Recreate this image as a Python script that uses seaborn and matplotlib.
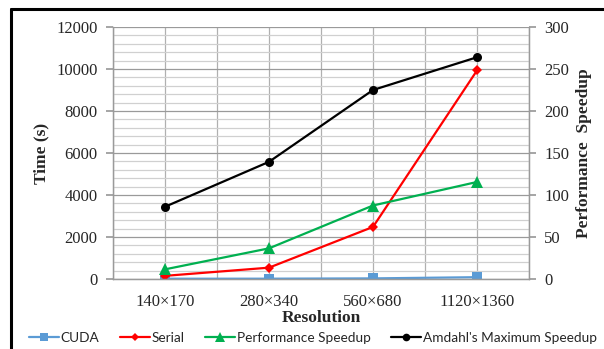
import matplotlib
matplotlib.use("Agg")
import matplotlib.pyplot as plt
from matplotlib.lines import Line2D
from matplotlib.ticker import MultipleLocator, FixedLocator
import seaborn as sns
import pandas as pd

categories = ["140×170", "280×340", "560×680", "1120×1360"]
cuda_time = [13, 15, 29, 86]
serial_time = [150, 540, 2480, 9930]
perf_speedup = [11.5, 36.5, 87.5, 115.5]
amdahl_speedup = [86, 139.5, 225, 264]

sns.set_theme(style="white")
plt.rcParams["font.family"] = ["Liberation Serif", "DejaVu Serif"]

fig = plt.figure(figsize=(6.04, 3.49), dpi=100)
ax = fig.add_axes([113/604, 1-279/349, (529-113)/604, (279-27)/349])
ax2 = ax.twinx()

pos = list(range(len(categories)))
df = pd.DataFrame({"pos": pos, "cuda": cuda_time, "serial": serial_time,
                   "perf": perf_speedup, "amdahl": amdahl_speedup})

ax.set_xlim(-0.5, 3.5)
ax.set_ylim(0, 12000)
ax2.set_ylim(0, 300)

# gridlines
minor_c = "#d0d0d0"
major_c = "#9a9a9a"
ax.yaxis.set_major_locator(MultipleLocator(2000))
ax.yaxis.set_minor_locator(MultipleLocator(400))
ax2.yaxis.set_major_locator(MultipleLocator(50))
ax.grid(which="minor", axis="y", color=minor_c, lw=0.9)
ax.grid(which="major", axis="y", color=major_c, lw=0.9)
ax.set_xticks(pos)
ax.xaxis.set_minor_locator(FixedLocator([-0.5, 0.5, 1.5, 2.5, 3.5]))
for x in [-0.5, 0, 0.5, 1, 1.5, 2, 2.5, 3, 3.5]:
    ax.axvline(x, color="#b0b0b0", lw=0.9, zorder=0.5)
ax.set_axisbelow(True)

sns.lineplot(data=df, x="pos", y="cuda", ax=ax, color="#5B9BD5", marker="s",
             markersize=7, markeredgewidth=0, lw=1.6, label="CUDA", legend=False)
sns.lineplot(data=df, x="pos", y="serial", ax=ax, color="#FF0000", marker="D",
             markersize=5, markeredgewidth=0, lw=1.6, label="Serial", legend=False)
sns.lineplot(data=df, x="pos", y="perf", ax=ax2, color="#00B050", marker="^",
             markersize=8, markeredgewidth=0, lw=1.6, label="Performance Speedup", legend=False)
sns.lineplot(data=df, x="pos", y="amdahl", ax=ax2, color="#000000", marker="o",
             markersize=6.5, markeredgewidth=0, lw=1.6, label="Amdahl's Maximum Speedup", legend=False)

ax.set_xticklabels(categories, fontsize=12)
ax.tick_params(axis="x", which="major", length=0, pad=11)
ax.tick_params(axis="x", which="minor", length=6, color="#9a9a9a", width=0.9, direction="out")
ax.tick_params(axis="y", which="major", labelsize=12, length=5, color="#9a9a9a", direction="out", left=True, pad=6)
ax.tick_params(axis="y", which="minor", length=0)
ax2.tick_params(axis="y", labelsize=12, length=5, color="#9a9a9a", direction="out", right=True, pad=6)
ax.set_xlim(-0.5, 3.5)

for a in (ax, ax2):
    for s in a.spines.values():
        s.set_color("#9a9a9a")
        s.set_linewidth(0.9)
    a.spines["top"].set_visible(False)

ax.set_xlabel("Resolution", fontsize=12.5, fontweight="bold", labelpad=0)
ax.set_ylabel("Time (s)", fontsize=12.5, fontweight="bold", labelpad=5)
ax2.set_ylabel("Performance  Speedup", fontsize=12.5, fontweight="bold", labelpad=5)

handles = [
    Line2D([], [], color="#5B9BD5", marker="s", markersize=6, markeredgewidth=0, lw=1.6),
    Line2D([], [], color="#FF0000", marker="D", markersize=4.5, markeredgewidth=0, lw=1.6),
    Line2D([], [], color="#00B050", marker="^", markersize=7, markeredgewidth=0, lw=1.6),
    Line2D([], [], color="#000000", marker="o", markersize=5.5, markeredgewidth=0, lw=1.6),
]
labels = ["CUDA", "Serial", "Performance Speedup", "Amdahl's Maximum Speedup"]
fig.legend(handles, labels, loc="center", bbox_to_anchor=(313/604, 1-338/349), ncol=4,
           frameon=False, prop={"family": "Lato", "size": 9.8}, handlelength=2.2,
           handletextpad=0.15, columnspacing=1.5, borderpad=0, borderaxespad=0)

# outer frame of the chart
fig.add_artist(Line2D([11/604, 11/604], [0, 1-9/349], color="black", lw=2.2, transform=fig.transFigure))
fig.add_artist(Line2D([11/604, 1], [1-9/349, 1-9/349], color="black", lw=2.2, transform=fig.transFigure))

fig.savefig("out.png", dpi=100)
